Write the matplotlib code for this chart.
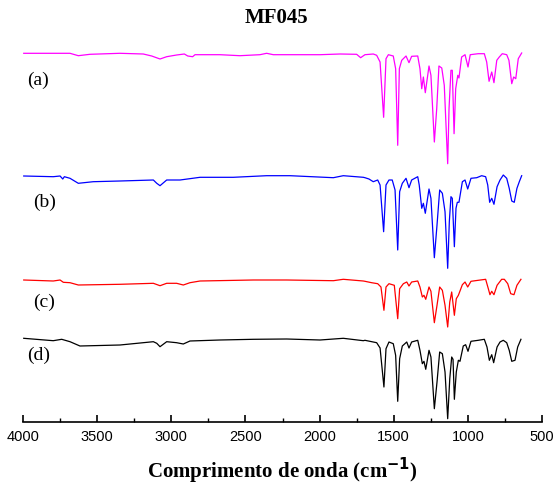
import matplotlib
matplotlib.use("Agg")
import matplotlib.pyplot as plt
from matplotlib.ticker import MultipleLocator

# espectros (numero de onda em cm-1, intensidade em u.a. ja deslocada)
wn_a = [3995, 3683, 3627, 3548, 3346, 3189, 3132, 3076, 3031, 2964, 2912, 2889, 2856, 2840,
        2672, 2537, 2402, 2357, 2312, 1997, 1862, 1750, 1723, 1694, 1638, 1615, 1592, 1568,
        1552, 1536, 1503, 1487, 1473, 1462, 1446, 1417, 1397, 1379, 1338, 1323, 1311, 1300,
        1287, 1262, 1249, 1226, 1210, 1195, 1176, 1159, 1136, 1127, 1114, 1105, 1093, 1082,
        1068, 1060, 1042, 1019, 999, 984, 930, 889, 873, 857, 839, 824, 805, 788, 768, 738,
        723, 704, 691, 677, 660, 637]
int_a = [368.7, 368.7, 366.3, 367.7, 368.7, 368.0, 366.0, 363.0, 365.3, 367.0, 368.0, 366.0,
         365.3, 367.3, 367.3, 366.3, 367.3, 368.7, 367.3, 367.3, 368.0, 367.7, 364.3, 367.3,
         368.0, 366.7, 360.0, 304.7, 363.3, 367.3, 366.0, 353.3, 276.7, 353.3, 361.7, 366.0,
         359.3, 365.7, 366.0, 353.3, 333.3, 345.0, 329.3, 356.0, 346.7, 280.0, 313.3, 356.0,
         354.0, 336.7, 258.3, 313.3, 351.7, 351.7, 288.3, 333.3, 346.7, 344.0, 365.0, 367.3,
         355.0, 367.3, 368.3, 368.3, 360.0, 340.7, 350.0, 339.3, 361.7, 365.0, 368.3, 367.3,
         361.7, 338.3, 345.0, 343.3, 363.3, 369.0]

wn_b = [3995, 3796, 3750, 3732, 3721, 3683, 3627, 3526, 3346, 3121, 3098, 3076, 3031, 2941,
        2806, 2582, 2357, 2199, 1907, 1840, 1705, 1694, 1667, 1638, 1608, 1592, 1568, 1552,
        1532, 1510, 1491, 1473, 1460, 1442, 1417, 1397, 1379, 1338, 1328, 1311, 1300, 1287,
        1262, 1249, 1226, 1208, 1190, 1172, 1154, 1136, 1125, 1114, 1105, 1091, 1080, 1071,
        1060, 1037, 1019, 1001, 979, 940, 907, 880, 866, 853, 839, 824, 803, 783, 761, 738,
        721, 704, 687, 669, 653, 637]
int_b = [246.0, 245.3, 246.0, 243.0, 245.3, 243.7, 238.7, 240.3, 241.0, 242.0, 238.7, 236.3,
         242.0, 242.0, 244.7, 244.7, 246.3, 246.3, 244.3, 246.3, 244.7, 244.3, 243.0, 240.3,
         242.0, 237.0, 190.3, 237.0, 242.0, 242.0, 232.0, 172.0, 230.3, 238.7, 243.7, 234.3,
         242.0, 245.3, 237.0, 213.7, 218.7, 208.7, 233.0, 223.7, 164.3, 197.0, 232.0, 228.7,
         210.3, 153.7, 200.3, 225.3, 223.7, 175.3, 213.7, 219.7, 219.7, 240.3, 242.0, 233.0,
         243.7, 244.3, 246.3, 245.3, 237.0, 219.7, 223.7, 217.7, 235.3, 242.0, 247.0, 243.7,
         233.7, 221.0, 219.7, 233.7, 240.3, 246.3]

wn_c = [3995, 3796, 3750, 3728, 3683, 3627, 3346, 3121, 3076, 3031, 2964, 2919, 2874, 2806,
        2447, 2222, 1907, 1840, 1705, 1694, 1649, 1608, 1586, 1566, 1552, 1532, 1496, 1473,
        1460, 1435, 1412, 1397, 1379, 1338, 1323, 1307, 1296, 1284, 1262, 1249, 1226, 1208,
        1190, 1172, 1154, 1136, 1122, 1109, 1091, 1078, 1064, 1037, 1019, 1001, 979, 930, 880,
        862, 851, 839, 824, 803, 772, 754, 731, 711, 689, 669, 642]
int_c = [142.0, 141.0, 142.0, 139.7, 139.3, 137.0, 137.7, 138.7, 136.3, 138.7, 138.7, 137.0,
         139.3, 141.0, 142.0, 142.0, 141.3, 142.7, 141.0, 140.7, 139.3, 138.3, 135.0, 111.7,
         135.0, 138.3, 136.7, 103.3, 133.3, 138.3, 140.0, 136.0, 140.0, 141.0, 135.0, 125.0,
         126.7, 122.7, 135.0, 130.7, 99.3, 116.7, 135.0, 131.7, 116.7, 95.0, 120.0, 130.0,
         106.7, 123.3, 126.7, 137.3, 140.0, 135.0, 140.7, 141.7, 142.7, 133.3, 127.3, 130.7,
         127.3, 136.7, 142.7, 142.7, 138.3, 128.3, 127.3, 136.7, 142.7]

wn_d = [3995, 3796, 3739, 3683, 3616, 3346, 3121, 3098, 3076, 3031, 2964, 2919, 2874, 2672,
        2447, 2222, 1997, 1840, 1705, 1694, 1615, 1592, 1566, 1552, 1532, 1503, 1487, 1473,
        1460, 1442, 1412, 1397, 1379, 1338, 1323, 1307, 1296, 1284, 1262, 1249, 1226, 1208,
        1190, 1172, 1154, 1136, 1122, 1109, 1100, 1091, 1078, 1064, 1053, 1031, 1015, 999, 979,
        930, 889, 871, 855, 839, 826, 803, 783, 761, 738, 721, 704, 682, 664, 642]
int_d = [83.7, 81.3, 82.7, 80.3, 76.0, 77.0, 80.3, 78.7, 75.3, 80.3, 79.3, 78.0, 81.0, 82.0,
         82.7, 83.0, 82.0, 83.7, 81.3, 81.7, 79.3, 74.0, 35.0, 73.3, 80.0, 78.3, 66.7, 20.7,
         63.3, 76.0, 80.0, 74.0, 80.0, 81.7, 71.7, 58.3, 60.7, 52.7, 71.7, 65.0, 13.3, 40.0,
         70.0, 68.3, 50.0, 3.3, 43.3, 65.0, 62.7, 22.7, 50.0, 61.7, 60.7, 76.0, 77.3, 70.7,
         80.7, 81.7, 82.7, 75.0, 61.7, 67.3, 59.3, 75.0, 80.0, 81.7, 79.3, 71.7, 60.7, 61.7,
         75.0, 82.7]

rotulos = ["(a)", "(b)", "(c)", "(d)"]
rotulos_x = [3970, 3935, 3935, 3970]
rotulos_y = [342, 220, 120, 67]
cores = ["#ff00ff", "#0000ff", "#ff0000", "#000000"]

fig = plt.figure(figsize=(5.58, 4.92), dpi=100)
ax = fig.add_axes([23 / 558, 70 / 492, 519 / 558, 382 / 492])

espectros = [(wn_a, int_a), (wn_b, int_b), (wn_c, int_c), (wn_d, int_d)]
for (x, y), cor in zip(espectros, cores):
    ax.plot(x, y, color=cor, lw=0.9)

for txt, tx, ty in zip(rotulos, rotulos_x, rotulos_y):
    ax.text(tx, ty, txt, fontsize=14, family="Liberation Serif", ha="left", va="center")

ax.set_xlim(4000, 500)
ax.set_ylim(0, 382)
for lado in ["left", "right", "top"]:
    ax.spines[lado].set_visible(False)
ax.spines["bottom"].set_linewidth(1.2)
ax.set_yticks([])
ax.xaxis.set_major_locator(MultipleLocator(500))
ax.xaxis.set_minor_locator(MultipleLocator(250))
ax.tick_params(axis="x", which="major", direction="in", length=5, width=1.2, pad=6)
ax.tick_params(axis="x", which="minor", direction="in", length=3, width=1.0)
for lbl in ax.get_xticklabels():
    lbl.set_fontfamily("Liberation Sans")
    lbl.set_fontsize(10.5)

ax.set_xlabel(r"Comprimento de onda (cm$^{\mathbf{-1}}$)", fontsize=15, fontweight="bold",
              family="Liberation Serif", labelpad=8)
fig.text(0.495, 0.963, "MF045", fontsize=15, fontweight="bold", family="Liberation Serif",
         ha="center", va="center")

fig.savefig("out.png", dpi=100)
